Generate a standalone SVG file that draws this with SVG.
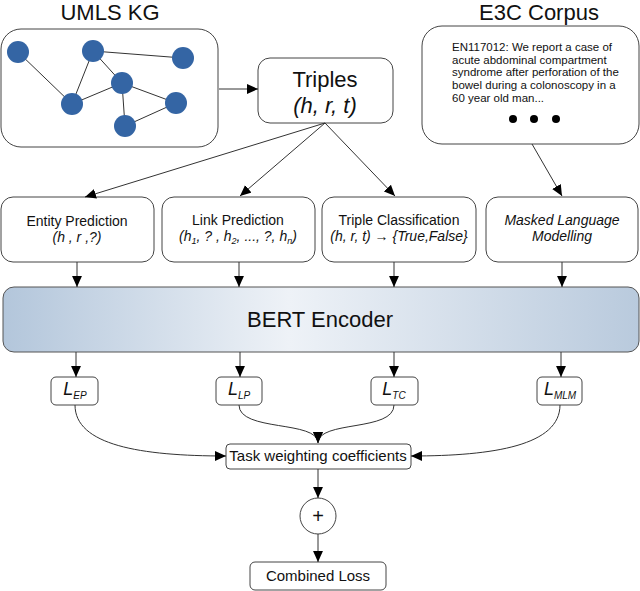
<svg xmlns="http://www.w3.org/2000/svg" width="640" height="591" viewBox="0 0 640 591">
<style>
text{font-family:"Liberation Sans",Arial,sans-serif;fill:#111}
.box{fill:#fff;stroke:#444;stroke-width:1}
.t{font-size:14px;text-anchor:middle}
.i{font-style:italic}
.big{font-size:22px;text-anchor:middle}
.edge{stroke:#333;stroke-width:1;fill:none}
.kg{stroke:#333;stroke-width:1}
.dot{fill:#3465a4}
.l{font-size:18px;font-style:italic;text-anchor:middle}
</style>
<defs>
<marker id="ah" viewBox="0 0 10 10" refX="10" refY="5" markerWidth="11" markerHeight="11" markerUnits="userSpaceOnUse" orient="auto">
<path d="M0,0.5 L10,5 L0,9.5 z" fill="#000"/>
</marker>
<linearGradient id="bg" x1="0" y1="0" x2="1" y2="0">
<stop offset="0" stop-color="#b3c6db"/>
<stop offset="0.45" stop-color="#eef2f7"/>
<stop offset="1" stop-color="#b9cadd"/>
</linearGradient>
</defs>

<text class="big" x="110" y="20">UMLS KG</text>
<text class="big" x="539" y="20">E3C Corpus</text>

<g id="kg">
<rect class="box" x="1" y="29" width="217" height="118" rx="20"/>
<g class="kg">
<line x1="18" y1="52" x2="72" y2="104"/>
<line x1="93" y1="51" x2="72" y2="104"/>
<line x1="93" y1="51" x2="183" y2="58"/>
<line x1="93" y1="51" x2="122" y2="83"/>
<line x1="122" y1="83" x2="72" y2="104"/>
<line x1="122" y1="83" x2="176" y2="103"/>
<line x1="122" y1="83" x2="125" y2="126"/>
<line x1="125" y1="126" x2="176" y2="103"/>
</g>
<circle class="dot" cx="18" cy="52" r="11"/>
<circle class="dot" cx="93" cy="51" r="11"/>
<circle class="dot" cx="183" cy="58" r="11"/>
<circle class="dot" cx="122" cy="83" r="11"/>
<circle class="dot" cx="72" cy="104" r="11"/>
<circle class="dot" cx="176" cy="103" r="11"/>
<circle class="dot" cx="125" cy="126" r="11"/>
</g>

<g id="triples">
<rect class="box" x="258" y="58" width="135" height="65" rx="12"/>
<text class="big" x="325" y="87">Triples</text>
<text class="big i" x="325" y="113">(h, r, t)</text>
</g>

<g id="corpus">
<rect class="box" x="422" y="26" width="217" height="118" rx="20"/>
<g font-size="11.5">
<text x="452" y="51">EN117012: We report a case of</text>
<text x="452" y="64">acute abdominal compartment</text>
<text x="452" y="76">syndrome after perforation of the</text>
<text x="452" y="89">bowel during a colonoscopy in a</text>
<text x="452" y="102">60 year old man...</text>
</g>
<circle cx="513" cy="119" r="4" fill="#000"/>
<circle cx="534" cy="119" r="4" fill="#000"/>
<circle cx="556" cy="119" r="4" fill="#000"/>
</g>

<g id="ep">
<rect class="box" x="1" y="197" width="153" height="65" rx="12"/>
<text class="t" x="77" y="226">Entity Prediction</text>
<text class="t i" x="77" y="242">(h , r ,?)</text>
</g>
<g id="lp">
<rect class="box" x="162" y="197" width="153" height="65" rx="12"/>
<text class="t" x="238" y="225">Link Prediction</text>
<text class="t i" x="238" y="241">(h<tspan font-size="9" dy="3">1</tspan><tspan dy="-3">, ? , h</tspan><tspan font-size="9" dy="3">2</tspan><tspan dy="-3">, ..., ?, h</tspan><tspan font-size="9" dy="3">n</tspan><tspan dy="-3">)</tspan></text>
</g>
<g id="tc">
<rect class="box" x="322" y="197" width="154" height="65" rx="12"/>
<text class="t" x="399" y="225">Triple Classification</text>
<text class="t i" x="399" y="241">(h, r, t) → {True,False}</text>
</g>
<g id="mlm">
<rect class="box" x="486" y="197" width="152" height="65" rx="12"/>
<text class="t i" x="562" y="225">Masked Language</text>
<text class="t i" x="562" y="241">Modelling</text>
</g>

<g id="bert">
<rect x="3" y="287" width="636" height="65" rx="11" fill="url(#bg)" stroke="#555" stroke-width="1"/>
<text class="big" x="320" y="327">BERT Encoder</text>
</g>

<g id="lep">
<rect class="box" x="51" y="377" width="47" height="28" rx="5"/>
<text class="l" x="75" y="395">L<tspan font-size="10" dy="4">EP</tspan></text>
</g>
<g id="llp">
<rect class="box" x="216" y="377" width="46" height="28" rx="5"/>
<text class="l" x="239" y="395">L<tspan font-size="10" dy="4">LP</tspan></text>
</g>
<g id="ltc">
<rect class="box" x="371" y="377" width="47" height="28" rx="5"/>
<text class="l" x="394" y="395">L<tspan font-size="10" dy="4">TC</tspan></text>
</g>
<g id="lmlm">
<rect class="box" x="537" y="377" width="45" height="28" rx="5"/>
<text class="l" x="560" y="395">L<tspan font-size="10" dy="4">MLM</tspan></text>
</g>

<g id="weights">
<rect class="box" x="226" y="444" width="185" height="25" rx="4"/>
<text x="318" y="461" font-size="15" text-anchor="middle">Task weighting coefficients</text>
</g>
<g id="plus">
<circle class="box" cx="318" cy="516" r="18"/>
<text x="318" y="523" font-size="20" text-anchor="middle">+</text>
</g>
<g id="combined">
<rect class="box" x="250" y="562" width="136" height="28" rx="5"/>
<text x="318" y="581" font-size="15" text-anchor="middle">Combined Loss</text>
</g>

<g id="connectors" class="edge" marker-end="url(#ah)">
<line x1="219" y1="89" x2="258" y2="89"/>
<line x1="325" y1="123" x2="85" y2="197"/>
<line x1="325" y1="123" x2="240" y2="196"/>
<line x1="325" y1="123" x2="395" y2="196"/>
<line x1="532" y1="144" x2="562" y2="196"/>
<line x1="77" y1="262" x2="77" y2="287"/>
<line x1="239" y1="262" x2="239" y2="287"/>
<line x1="394" y1="262" x2="394" y2="287"/>
<line x1="562" y1="262" x2="562" y2="287"/>
<line x1="76" y1="352" x2="76" y2="377"/>
<line x1="240" y1="352" x2="240" y2="377"/>
<line x1="394" y1="352" x2="394" y2="377"/>
<line x1="561" y1="352" x2="561" y2="377"/>
<path d="M75,405 C75,445 140,456 226,456"/>
<path d="M560,405 C560,445 495,456 411,456"/>
<path d="M239,405 C239,432 318,420 318,443"/>
<path d="M394,405 C394,432 318,420 318,443"/>
<line x1="318" y1="469" x2="318" y2="498"/>
<line x1="318" y1="534" x2="318" y2="562"/>
</g>
</svg>
